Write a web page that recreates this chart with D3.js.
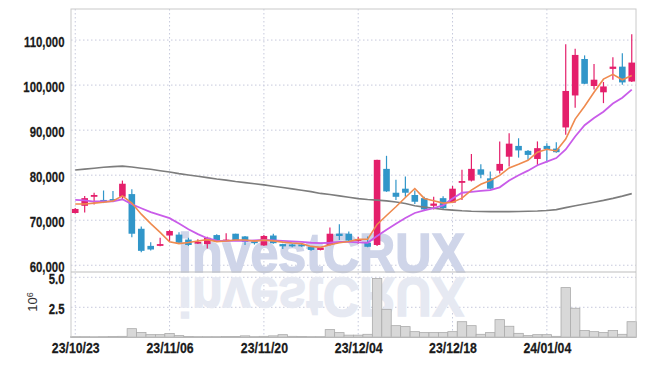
<!DOCTYPE html>
<html><head><meta charset="utf-8">
<script src="https://cdn.jsdelivr.net/npm/d3@7"></script>
<style>
body{margin:0;background:#fff}
svg text{font-family:'Liberation Sans',Arial,sans-serif}
</style>
</head><body>
<svg id="chart" width="645" height="366"></svg>
<script>
const dates = ["2023-10-23","2023-10-24","2023-10-25","2023-10-26","2023-10-27","2023-10-30","2023-10-31",
"2023-11-01","2023-11-02","2023-11-03","2023-11-06","2023-11-07","2023-11-08","2023-11-09","2023-11-10",
"2023-11-13","2023-11-14","2023-11-15","2023-11-16","2023-11-17","2023-11-20","2023-11-21","2023-11-22",
"2023-11-23","2023-11-24","2023-11-27","2023-11-28","2023-11-29","2023-11-30","2023-12-01","2023-12-04",
"2023-12-05","2023-12-06","2023-12-07","2023-12-08","2023-12-11","2023-12-12","2023-12-13","2023-12-14",
"2023-12-15","2023-12-18","2023-12-19","2023-12-20","2023-12-21","2023-12-22","2023-12-26","2023-12-27",
"2023-12-28","2024-01-02","2024-01-03","2024-01-04","2024-01-05","2024-01-08","2024-01-09","2024-01-10",
"2024-01-11","2024-01-12","2024-01-15","2024-01-16","2024-01-17"];

const open  = [71600,73200,75400,74500,74700,75200,75800,68100,64300,64300,66600,66800,65700,64900,64700,
66700,65500,67000,66400,65300,64400,66600,64700,64600,64600,64100,63400,64500,67000,67000,65500,
65000,64500,81400,76100,77000,75600,74900,73200,74900,73900,78300,78800,81300,79300,81000,84100,
86500,85400,83600,86500,85900,90600,97700,105800,99800,98400,103600,104100,100800];
const high  = [72700,75400,76100,76600,76500,78800,76900,68600,65100,66100,67800,67300,66100,65800,66300,
66900,67100,67000,66500,65500,66700,67000,64800,64800,64700,64300,64000,68400,69100,67500,66300,
66400,83400,84300,79000,79700,76600,75200,75200,75300,77600,81200,84700,82400,80800,87500,89300,
88200,85600,87500,87100,87300,109100,108100,106600,104700,100700,106200,107100,111300];
const low   = [71500,71700,73500,73800,74200,74700,66200,62900,63300,64200,65300,64800,64300,64700,63700,
65200,65300,65500,64500,64600,64300,64800,63600,64000,64100,63200,63300,64400,65600,65300,64800,
64000,64300,76300,74500,75200,73600,72100,72400,72500,73800,74500,78600,79300,76900,80400,81900,
83900,83400,82300,82800,85000,89000,95000,100200,99000,96000,101200,100100,100700];
const close = [72500,74900,75600,74000,74400,78100,67000,63200,63500,64700,67600,65000,64500,65200,66100,
65400,65700,65600,65200,64900,66500,64900,64200,64200,64200,63400,63900,67000,66500,65500,65800,
64100,83400,76400,75200,76100,74100,72400,73700,72700,77000,78700,81400,80100,77000,82500,87000,
85500,84500,86000,85800,85100,98700,106700,100300,101200,99700,104100,100600,105000];
// volume, millions of shares
const volume = [0.05,0.05,0.04,0.05,0.06,0.08,0.72,0.40,0.22,0.22,0.31,0.14,0.06,0.05,0.05,0.05,0.06,0.07,
0.12,0.05,0.08,0.12,0.22,0.08,0.06,0.05,0.05,0.64,0.39,0.18,0.18,0.25,4.90,2.33,0.97,0.89,0.47,0.39,0.39,
0.39,0.47,1.30,0.97,0.25,0.39,1.47,0.92,0.33,0.14,0.22,0.22,0.08,4.14,2.42,0.56,0.47,0.39,0.56,0.25,1.30];
// moving averages
const ma5 = [73600,73600,73800,74000,74280,75400,73820,71340,69240,67300,65200,64800,65060,65400,65680,
65240,65380,65600,65600,65360,65580,65420,65140,64940,64800,64180,63980,64540,65000,65260,65740,65780,
69060,71040,72980,75040,77040,74840,74300,73800,73980,74900,76700,77980,78840,79940,81600,82420,83300,
85100,85760,85380,88020,92460,95320,98400,101320,102400,101180,102120];
const ma20 = [74500,74400,74150,74150,74200,74650,73550,72650,71800,71150,70450,69250,68000,66900,66000,
65450,65400,65450,65400,65500,65600,65500,65400,65300,65200,65000,64900,65000,65200,65200,65100,65000,
66500,67900,69200,70500,71600,72200,72700,73300,74800,76100,76300,76500,76700,77300,78800,80000,81000,
82200,83000,83800,85700,88600,91100,92700,94100,95900,97200,99000];
const ma60 = [81150,81350,81550,81750,81900,82000,81800,81550,81300,81000,80700,80350,80050,79750,79450,
79150,78900,78600,78350,78100,77850,77550,77250,76950,76650,76350,75950,75700,75400,75100,74800,74600,
74450,74300,74050,73700,73200,72900,72650,72400,72250,72100,72000,71950,71900,71900,71900,71950,72000,
72050,72150,72350,72800,73200,73600,74000,74400,74850,75350,75900];

const tickDates  = ["2023-10-23","2023-11-06","2023-11-20","2023-12-04","2023-12-18","2024-01-04"];
const tickLabels = ["23/10/23","23/11/06","23/11/20","23/12/04","23/12/18","24/01/04"];
const priceTicks = [60000,70000,80000,90000,100000,110000];
const volTicks   = [2.5,5.0];

const L=71, R=636, T=9, MID=272, B=337.3;
const svg = d3.select("#chart");

const x = d3.scalePoint().domain(dates).range([L,R]).padding(0.45);
const step = x.step();
const y = d3.scaleLinear().domain([58500,116900]).range([MID,T]);
const yv = d3.scaleLinear().domain([0,5.44]).range([B,MID]);

const data = dates.map((d,i)=>({d,o:open[i],h:high[i],l:low[i],c:close[i],v:volume[i],m5:ma5[i],m20:ma20[i],m60:ma60[i]}));

const gridColor="#c6c9dc";
const grid = svg.append("g");
grid.selectAll("line.h").data(priceTicks).join("line")
  .attr("x1",L).attr("x2",R).attr("y1",d=>y(d)).attr("y2",d=>y(d))
  .attr("stroke",gridColor).attr("stroke-dasharray","1.5,2.5");
grid.selectAll("line.v2").data(volTicks).join("line")
  .attr("x1",L).attr("x2",R).attr("y1",d=>yv(d)).attr("y2",d=>yv(d))
  .attr("stroke",gridColor).attr("stroke-dasharray","1.5,2.5");
grid.selectAll("line.vx").data(tickDates).join("line")
  .attr("x1",d=>x(d)).attr("x2",d=>x(d)).attr("y1",T).attr("y2",B)
  .attr("stroke",gridColor).attr("stroke-dasharray","1.5,2.5");

// watermark
const wm = svg.append("g").attr("font-family","'DejaVu Sans',sans-serif").attr("font-weight","bold").attr("font-size",55);
wm.append("text").attr("x",178).attr("y",272).attr("textLength",287).attr("lengthAdjust","spacingAndGlyphs")
  .attr("fill","#cfd5e9").attr("stroke","#cfd5e9").attr("stroke-width",1.5).text("investCRUX");
wm.append("text").attr("x",178).attr("y",272).attr("textLength",287).attr("lengthAdjust","spacingAndGlyphs")
  .attr("transform","translate(0,550) scale(1,-1)")
  .attr("fill","#e6e9f2").attr("stroke","#e6e9f2").attr("stroke-width",1.5).text("investCRUX");

// volume bars
svg.append("g").selectAll("rect").data(data).join("rect")
  .attr("x",d=>x(d.d)-step/2).attr("width",step)
  .attr("y",d=>yv(d.v)).attr("height",d=>B-yv(d.v))
  .attr("fill","#d8d8d8").attr("stroke","#ababab").attr("stroke-width",0.8);

// frame
svg.append("rect").attr("x",L).attr("y",T).attr("width",R-L).attr("height",B-T)
  .attr("fill","none").attr("stroke","#cacaca");
svg.append("line").attr("x1",L).attr("x2",R).attr("y1",MID).attr("y2",MID).attr("stroke","#bdbdbd").attr("stroke-width",1.2);
svg.append("line").attr("x1",L).attr("x2",R).attr("y1",B).attr("y2",B).attr("stroke","#b5b5b5");

// candles
const up="#e41f6b", dn="#3196c9";
const cg = svg.append("g").selectAll("g").data(data).join("g");
cg.append("line").attr("x1",d=>x(d.d)).attr("x2",d=>x(d.d)).attr("y1",d=>y(d.h)).attr("y2",d=>y(d.l))
  .attr("stroke",d=>d.c>=d.o?up:dn).attr("stroke-width",1.2);
const bw = step*0.7;
cg.append("rect").attr("x",d=>x(d.d)-bw/2).attr("width",bw)
  .attr("y",d=>y(Math.max(d.o,d.c))).attr("height",d=>Math.max(1.8,Math.abs(y(d.o)-y(d.c))))
  .attr("fill",d=>d.c>=d.o?up:dn);

// moving averages
const lineOf = k => d3.line().x(d=>x(d.d)).y(d=>y(d[k]));
svg.append("path").datum(data).attr("d",lineOf("m60")).attr("fill","none").attr("stroke","#7d7d7d").attr("stroke-width",1.6);
svg.append("path").datum(data).attr("d",lineOf("m20")).attr("fill","none").attr("stroke","#c95ce9").attr("stroke-width",1.8);
svg.append("path").datum(data).attr("d",lineOf("m5")).attr("fill","none").attr("stroke","#ef8a4e").attr("stroke-width",1.6);

// axes
const ya = svg.append("g").attr("transform",`translate(${L},0)`)
  .call(d3.axisLeft(y).tickValues(priceTicks).tickFormat(d3.format(",")).tickSize(0).tickPadding(8.5));
const yva = svg.append("g").attr("transform",`translate(${L},0)`)
  .call(d3.axisLeft(yv).tickValues(volTicks).tickFormat(d3.format(".1f")).tickSize(0).tickPadding(8.5));
const xa = svg.append("g").attr("transform",`translate(0,${B})`)
  .call(d3.axisBottom(x).tickValues(tickDates).tickFormat((d,i)=>tickLabels[i]).tickSize(0).tickPadding(5.5));
[ya,yva,xa].forEach(a=>{
  a.select(".domain").remove();
  a.selectAll("text").attr("font-family","'Liberation Sans',Arial,sans-serif")
    .attr("font-size",15).attr("font-weight","bold").attr("fill","#1a1a1a")
    .attr("stroke","#1a1a1a").attr("stroke-width",0.25);
});
ya.selectAll("text").attr("transform","scale(0.76,1)").attr("dy","0.42em");
yva.selectAll("text").attr("transform","scale(0.76,1)").attr("dy","0.42em");
xa.selectAll("text").attr("transform","scale(0.82,1)");

const ul = svg.append("text").attr("transform","translate(37,302) rotate(-90)").attr("text-anchor","middle")
  .attr("font-family","'Liberation Serif','DejaVu Serif',serif").attr("font-size",13).attr("fill","#333");
ul.append("tspan").text("10");
ul.append("tspan").attr("dy","-0.5em").attr("font-size",9).text("6");
</script>
</body></html>
